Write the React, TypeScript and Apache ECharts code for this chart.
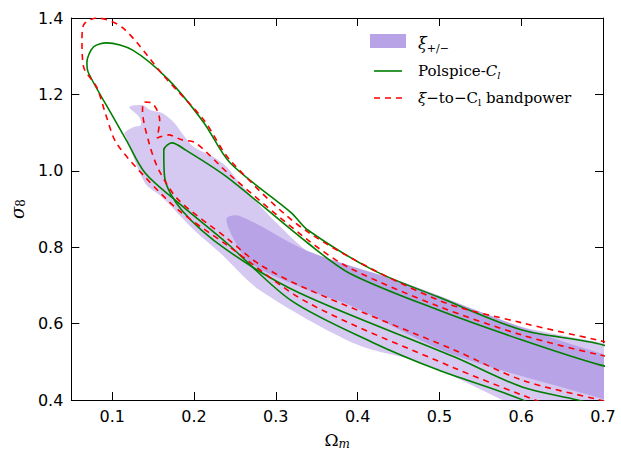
import React, { useEffect, useRef } from 'react'
import * as echarts from 'echarts'

// contour traces, [Omega_m, sigma_8]
const xiOuter = [
  [0.121, 1.167], [0.137, 1.172], [0.146, 1.159], [0.161, 1.151], [0.176, 1.125], [0.185, 1.099],
  [0.2, 1.062], [0.224, 1.036], [0.24, 1.01], [0.256, 0.968], [0.3, 0.865], [0.348, 0.775],
  [0.42, 0.71], [0.498, 0.654], [0.601, 0.591], [0.7, 0.549], [0.744, 0.531], [0.744, 0.348],
  [0.625, 0.348], [0.577, 0.4], [0.479, 0.497], [0.399, 0.545], [0.28, 0.688], [0.232, 0.785],
  [0.2, 0.845], [0.161, 0.931], [0.14, 0.968], [0.117, 1.088], [0.115, 1.099], [0.127, 1.115],
  [0.135, 1.12], [0.133, 1.141]
]
const xiInner = [
  [0.24, 0.876], [0.256, 0.882], [0.339, 0.79], [0.458, 0.706], [0.577, 0.609],
  [0.696, 0.523], [0.744, 0.505], [0.744, 0.369], [0.696, 0.405], [0.518, 0.518], [0.39, 0.649],
  [0.339, 0.688], [0.268, 0.76], [0.246, 0.832]
]
const clOuter = [
  [0.744, 0.492], [0.7, 0.544], [0.601, 0.583], [0.498, 0.67], [0.419, 0.74], [0.339, 0.845],
  [0.319, 0.89], [0.244, 1.021], [0.212, 1.126], [0.169, 1.238], [0.125, 1.316], [0.093, 1.335],
  [0.077, 1.324], [0.069, 1.283], [0.071, 1.256], [0.101, 1.141], [0.117, 1.081], [0.14, 0.995],
  [0.181, 0.916], [0.24, 0.811], [0.319, 0.66], [0.419, 0.55], [0.498, 0.479], [0.601, 0.401],
  [0.649, 0.348]
]
const clInner = [
  [0.744, 0.473], [0.696, 0.492], [0.601, 0.557], [0.498, 0.636], [0.39, 0.732], [0.339, 0.811],
  [0.24, 0.984], [0.19, 1.054], [0.173, 1.073], [0.163, 1.054], [0.164, 0.984], [0.185, 0.897],
  [0.24, 0.793], [0.329, 0.68], [0.518, 0.513], [0.601, 0.434], [0.669, 0.4],
  [0.72, 0.369]
]
const bpOuter = [
  [0.744, 0.531], [0.693, 0.557], [0.601, 0.602], [0.498, 0.662], [0.339, 0.84], [0.244, 1.028],
  [0.212, 1.133], [0.164, 1.246], [0.113, 1.374], [0.081, 1.4], [0.065, 1.382], [0.063, 1.342],
  [0.065, 1.272], [0.081, 1.219], [0.093, 1.141], [0.105, 1.073], [0.14, 0.984], [0.181, 0.897],
  [0.24, 0.806], [0.339, 0.655], [0.518, 0.484], [0.601, 0.413], [0.649, 0.374]
]
const bpInner = [
  [0.744, 0.5], [0.696, 0.518], [0.601, 0.57], [0.498, 0.646], [0.39, 0.746], [0.339, 0.819],
  [0.244, 0.989], [0.202, 1.073], [0.185, 1.081], [0.169, 1.094], [0.155, 1.086], [0.158, 1.133],
  [0.149, 1.177], [0.139, 1.18], [0.137, 1.159], [0.145, 1.073], [0.157, 1.002], [0.181, 0.924],
  [0.24, 0.824], [0.28, 0.755], [0.339, 0.69], [0.518, 0.531], [0.601, 0.452], [0.696, 0.4],
  [0.744, 0.374]
]
const xTicks = [0.1, 0.2, 0.3, 0.4, 0.5, 0.6, 0.7]

const fill = (pts: number[][], color: string) => ({
  type: 'custom',
  clip: true,
  silent: true,
  data: pts,
  renderItem: (params: any, api: any) => {
    if (params.dataIndex !== 0) return null
    return {
      type: 'polygon',
      shape: { points: pts.map(p => api.coord(p)), smooth: 0.3 },
      style: { fill: color }
    }
  }
})

const curve = (pts: number[][], color: string, dashed: boolean) => ({
  type: 'line',
  data: pts,
  showSymbol: false,
  smooth: 0.3,
  clip: true,
  silent: true,
  lineStyle: { color, width: 1.6, type: dashed ? [6, 5] : 'solid' },
  z: 5
})

const tickFont = { fontFamily: 'DejaVu Sans', fontSize: 16, color: '#000' }

const App = () => {
  const chartRef = useRef<HTMLDivElement>(null)

  useEffect(() => {
    const chart = echarts.init(chartRef.current!, null, { renderer: 'svg' })
    const axisLine = { show: true, lineStyle: { color: '#000', width: 1 } }
    chart.setOption({
      animation: false,
      grid: { left: 57, right: 18, top: 18, bottom: 56 },
      xAxis: [
        {
          type: 'value', min: 0.05, max: 0.7, axisLine,
          splitLine: { show: false },
          axisTick: { inside: true, length: 8, customValues: xTicks, lineStyle: { color: '#000' } },
          axisLabel: { ...tickFont, margin: 8, customValues: xTicks, formatter: (v: number) => v.toFixed(1) },
          name: '{a|Ω}{b|m}', nameLocation: 'middle', nameGap: 30,
          nameTextStyle: { rich: { a: { fontFamily: 'DejaVu Serif', fontSize: 17 }, b: { fontFamily: 'DejaVu Serif', fontSize: 12, fontStyle: 'italic', verticalAlign: 'bottom', padding: [8, 0, 0, 0] } } }
        },
        {
          type: 'value', min: 0.05, max: 0.7, position: 'top', axisLine,
          splitLine: { show: false }, axisLabel: { show: false },
          axisTick: { inside: true, length: 8, customValues: xTicks, lineStyle: { color: '#000' } }
        }
      ],
      yAxis: [
        {
          type: 'value', min: 0.4, max: 1.4, interval: 0.2, axisLine,
          splitLine: { show: false },
          axisTick: { inside: true, length: 8, lineStyle: { color: '#000' } },
          axisLabel: { ...tickFont, margin: 8, formatter: (v: number) => v.toFixed(1) },
          name: '{a|σ}{b|8}', nameLocation: 'middle', nameGap: 42, nameRotate: 90,
          nameTextStyle: { rich: { a: { fontFamily: 'DejaVu Serif', fontSize: 18, fontStyle: 'italic' }, b: { fontFamily: 'DejaVu Serif', fontSize: 12, verticalAlign: 'bottom', padding: [8, 0, 0, 0] } } }
        },
        {
          type: 'value', min: 0.4, max: 1.4, interval: 0.2, position: 'right', axisLine,
          splitLine: { show: false }, axisLabel: { show: false },
          axisTick: { inside: true, length: 8, lineStyle: { color: '#000' } }
        }
      ],
      series: [
        fill(xiOuter, '#d5c8f1'),
        fill(xiInner, '#b7a3e6'),
        curve(clOuter, '#007f00', false),
        curve(clInner, '#007f00', false),
        curve(bpOuter, '#ff0000', true),
        curve(bpInner, '#ff0000', true)
      ],
      graphic: [
        { type: 'rect', shape: { x: 370, y: 34, width: 36, height: 14 }, style: { fill: '#b7a3e6' }, z: 10 },
        { type: 'line', shape: { x1: 374, y1: 71, x2: 402, y2: 71 }, style: { stroke: '#007f00', lineWidth: 1.6 }, z: 10 },
        { type: 'line', shape: { x1: 374, y1: 98, x2: 402, y2: 98 }, style: { stroke: '#ff0000', lineWidth: 1.6, lineDash: [6, 5] }, z: 10 },
        {
          type: 'text', x: 418, y: 43, z: 10,
          style: {
            text: '{a|ξ}{s|+/−}', verticalAlign: 'middle',
            rich: { a: { fontFamily: 'DejaVu Serif', fontSize: 16, fontStyle: 'italic' }, s: { fontFamily: 'DejaVu Serif', fontSize: 11, padding: [10, 0, 0, 0] } }
          }
        },
        {
          type: 'text', x: 418, y: 71, z: 10,
          style: {
            text: '{a|Polspice-}{c|C}{s|l}', verticalAlign: 'middle',
            rich: { a: { fontFamily: 'DejaVu Serif', fontSize: 15 }, c: { fontFamily: 'DejaVu Serif', fontSize: 15, fontStyle: 'italic' }, s: { fontFamily: 'DejaVu Serif', fontSize: 10, fontStyle: 'italic', padding: [8, 0, 0, 0] } }
          }
        },
        {
          type: 'text', x: 418, y: 98, z: 10,
          style: {
            text: '{c|ξ}{a|−to−C}{s|l}{a| bandpower}', verticalAlign: 'middle',
            rich: { a: { fontFamily: 'DejaVu Serif', fontSize: 15 }, c: { fontFamily: 'DejaVu Serif', fontSize: 15, fontStyle: 'italic' }, s: { fontFamily: 'DejaVu Serif', fontSize: 10, padding: [8, 0, 0, 0] } }
          }
        }
      ]
    })
    return () => {
      chart.dispose()
    }
  }, [])

  return (
    <div style={{ position: 'fixed', left: 0, top: 0, width: '621px', height: '456px', background: '#fff' }} ref={chartRef}></div>
  )
}
export default App
